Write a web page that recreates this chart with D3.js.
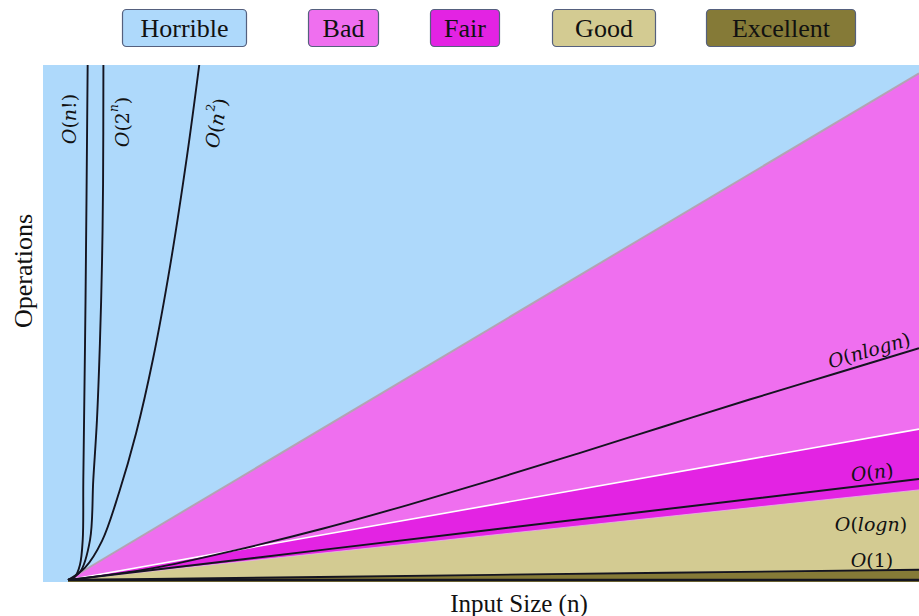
<!DOCTYPE html>
<html><head><meta charset="utf-8">
<script src="https://cdn.jsdelivr.net/npm/d3@7"></script>
<style>body{margin:0;background:#fff}</style>
</head><body><svg id="c" width="919" height="616"></svg>
<script>
// ---- data ----
const categories = ["Horrible", "Bad", "Fair", "Good", "Excellent"];
const inputSize = [0, 100];
const badTop = [0, 98.4];
const fairTop = [0, 29.3];
const goodTop = [0, 17.5];
const excellentTop = [0, 2.0];

const factN = [0, 0.8, 1.4, 1.73, 1.8, 2.06, 2.31];
const factOps = [0, 0.6, 2.9, 7.8, 19.4, 54.4, 100];
const expN = [0, 1.41, 2.59, 2.97, 3.4, 3.75, 4.0, 4.12, 4.16];
const expOps = [0, 1.55, 7.8, 19.4, 31, 46, 62, 77, 100];
const sqN = [0, 2, 4, 6, 8, 10, 12, 14, 15.5];
const sqOps = [0, 2.4, 7.6, 17, 28.5, 43, 61, 82.5, 101];
const nlogN = [0, 10, 20, 30, 40, 50, 60, 70, 80, 90, 100];
const nlogOps = [0, 2.3, 5.9, 10.0, 14.6, 19.5, 24.6, 29.8, 35.0, 40.0, 45.0];
const linN = [0, 50, 100];
const linOps = [0, 9.8, 19.6];
const logN = [0, 50, 100];
const logOps = [0, 0, 0];
const constN = [0, 50, 100];
const constOps = [0, 1.0, 2.0];

// ---- style / layout ----
const colors = {Horrible:"#aed9fb", Bad:"#ef6fef", Fair:"#e323e3", Good:"#d3cb92", Excellent:"#857a37"};
const legendBoxes = [[122,247],[308,379],[430,500],[552,656],[706,856]];

const svg = d3.select("#c");
const plot = {l:43, t:65, r:919, b:582};
const x = d3.scaleLinear().domain([0,100]).range([68, 919]);
const y = d3.scaleLinear().domain([0,100]).range([580, 65]);
const zip = (a,b) => a.map((v,i)=>[v,b[i]]);

svg.append("defs").append("clipPath").attr("id","clip")
  .append("rect").attr("x",plot.l).attr("y",plot.t).attr("width",plot.r-plot.l).attr("height",plot.b-plot.t);

const g = svg.append("g").attr("clip-path","url(#clip)");
g.append("rect").attr("x",plot.l).attr("y",plot.t).attr("width",plot.r-plot.l).attr("height",plot.b-plot.t)
  .attr("fill",colors.Horrible);

const area = d3.area().x(d=>x(d[0])).y0(plot.b).y1(d=>y(d[1]));
const line = d3.line().x(d=>x(d[0])).y(d=>y(d[1]));
const bounds = [["Bad",badTop,"#b4a2b4",2],["Fair",fairTop,"#ffffff",1.6],["Good",goodTop,"#e9b8e9",0.8],["Excellent",excellentTop,null,0]];
bounds.forEach(([k,vals,stroke,sw])=>{
  const pts = zip(inputSize, vals);
  g.append("path").attr("d",area(pts)).attr("fill",colors[k]);
  if(stroke) g.append("path").attr("d",line(pts)).attr("fill","none").attr("stroke",stroke).attr("stroke-width",sw);
});

const curve = d3.line().x(d=>x(d[0])).y(d=>y(d[1])).curve(d3.curveCatmullRom.alpha(0.5));
const series = [[factN,factOps],[expN,expOps],[sqN,sqOps],[nlogN,nlogOps],[linN,linOps],[constN,constOps]];
series.forEach(([a,b])=>{
  g.append("path").attr("d",curve(zip(a,b))).attr("fill","none").attr("stroke","#141420").attr("stroke-width",1.9);
});
g.append("path").attr("d",line(zip(logN,logOps))).attr("fill","none").attr("stroke","#141420").attr("stroke-width",2.5);

// curve labels
const mathFont = "DejaVu Serif";
function mathLabel(cx, cy, rot, parts){
  const t = svg.append("text").attr("transform",`translate(${cx},${cy}) rotate(${rot})`)
    .attr("text-anchor","middle").attr("dominant-baseline","central")
    .attr("font-family",mathFont).attr("font-size",19).attr("fill","#111");
  parts.forEach(p=>{
    const s = t.append("tspan").text(p.t);
    if(p.i) s.attr("font-style","italic");
    if(p.sup) s.attr("font-size",12).attr("dy",-8);
    if(p.down) s.attr("dy",8);
  });
}
const I = s=>({t:s,i:true}), U = s=>({t:s});
mathLabel(69,119,-90,[I("O"),U("("),I("n"),U("!)")]);
mathLabel(122,122,-90,[I("O"),U("(2"),{t:"n",i:true,sup:true},{t:")",down:true}]);
mathLabel(216,123,-79,[I("O"),U("("),I("n"),{t:"2",sup:true},{t:")",down:true}]);
mathLabel(869,350,-16,[I("O"),U("("),I("nlogn"),U(")")]);
mathLabel(872,472,-7,[I("O"),U("("),I("n"),U(")")]);
mathLabel(871,524,0,[I("O"),U("("),I("logn"),U(")")]);
mathLabel(872,560,0,[I("O"),U("(1)")]);

// legend
categories.forEach((c,i)=>{
  const [x0,x1] = legendBoxes[i];
  svg.append("rect").attr("x",x0+0.5).attr("y",9.5).attr("width",x1-x0-1).attr("height",37).attr("rx",4)
    .attr("fill",colors[c]).attr("stroke","#55607e").attr("stroke-width",1.2);
  svg.append("text").attr("x",(x0+x1)/2).attr("y",28).attr("text-anchor","middle").attr("dominant-baseline","central")
    .attr("font-family","Liberation Serif").attr("font-size",26).attr("fill","#111").text(c);
});

// axis titles
svg.append("text").attr("x",519).attr("y",603).attr("text-anchor","middle").attr("dominant-baseline","central")
  .attr("font-family","Liberation Serif").attr("font-size",25).attr("fill","#111").text("Input Size (n)");
svg.append("text").attr("transform","translate(23,271) rotate(-90)").attr("text-anchor","middle").attr("dominant-baseline","central")
  .attr("font-family","Liberation Serif").attr("font-size",26).attr("fill","#111").text("Operations");
</script></body></html>
